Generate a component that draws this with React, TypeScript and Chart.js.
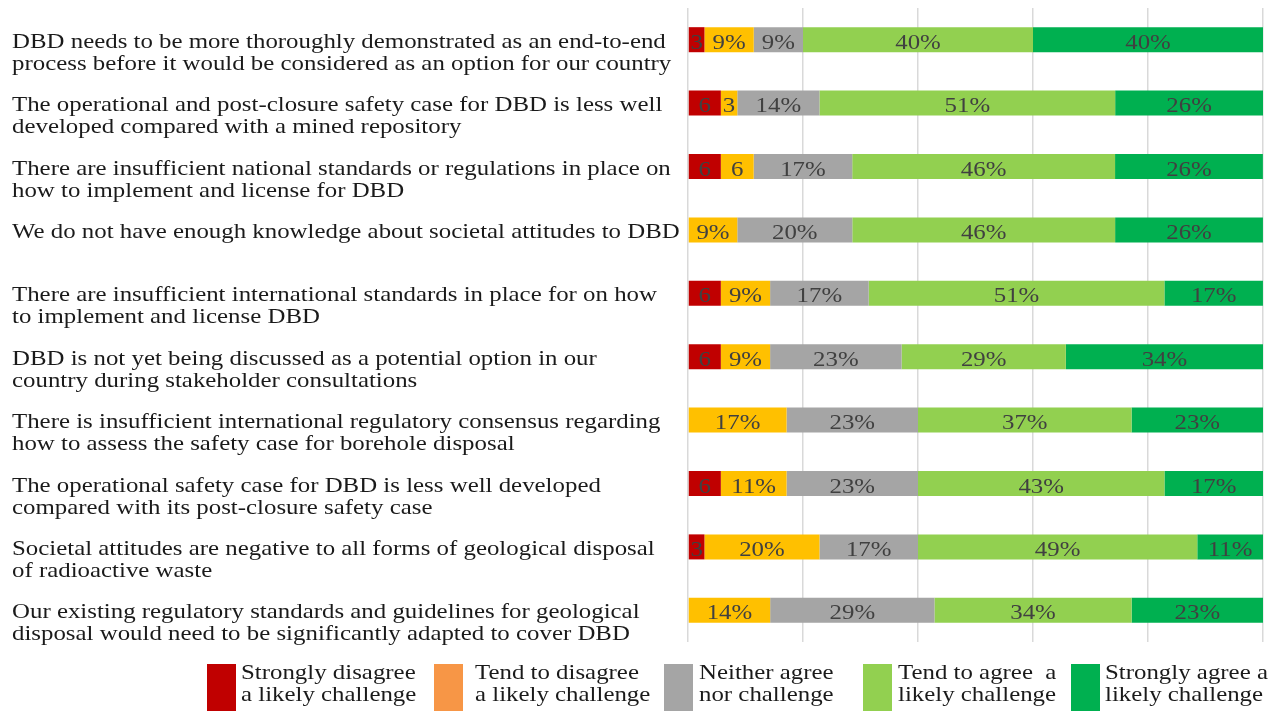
import React, { useEffect, useRef } from "react";
import { Chart, registerables } from "chart.js";

Chart.register(...registerables);

const categories: string[][] = [
  ["DBD needs to be more thoroughly demonstrated as an end-to-end", "process before it would be considered as an option for our country"],
  ["The operational and post-closure safety case for DBD is less well", "developed compared with a mined repository"],
  ["There are insufficient national standards or regulations in place on", "how to implement and license for DBD"],
  ["We do not have enough knowledge about societal attitudes to DBD"],
  ["There are insufficient international standards in place for on how", "to implement and license DBD"],
  ["DBD is not yet being discussed as a potential option in our", "country during stakeholder consultations"],
  ["There is insufficient international regulatory consensus regarding", "how to assess the safety case for borehole disposal"],
  ["The operational safety case for DBD is less well developed", "compared with its post-closure safety case"],
  ["Societal attitudes are negative to all forms of geological disposal", "of radioactive waste"],
  ["Our existing regulatory standards and guidelines for geological", "disposal would need to be significantly adapted to cover DBD"],
];

const seriesNames: string[][] = [
  ["Strongly disagree", "a likely challenge"],
  ["Tend to disagree", "a likely challenge"],
  ["Neither agree", "nor challenge"],
  ["Tend to agree  a", "likely challenge"],
  ["Strongly agree a", "likely challenge"],
];

const stronglyDisagree = [2.86, 5.71, 5.71, 0, 5.71, 5.71, 0, 5.71, 2.86, 0];
const tendDisagree = [8.57, 2.86, 5.71, 8.57, 8.57, 8.57, 17.14, 11.43, 20.0, 14.29];
const neither = [8.57, 14.29, 17.14, 20.0, 17.14, 22.86, 22.86, 22.86, 17.14, 28.57];
const tendAgree = [40.0, 51.43, 45.71, 45.71, 51.43, 28.57, 37.14, 42.86, 48.57, 34.29];
const stronglyAgree = [40.0, 25.71, 25.71, 25.71, 17.14, 34.29, 22.86, 17.14, 11.43, 22.86];

const xTickStep = 20;

const barColors = ["#C00000", "#FFC000", "#A5A5A5", "#92D050", "#00B050"];
const legendColors = ["#C00000", "#F79646", "#A5A5A5", "#92D050", "#00B050"];
const legendBoxX = [207, 434, 664, 863, 1071];
const legendTextX = [241, 475, 699, 898, 1105];

const FONT = '"Liberation Serif", "Times New Roman", serif';
const STRETCH = 1.13;

function stretchedText(ctx: CanvasRenderingContext2D, txt: string, x: number, y: number) {
  ctx.save();
  ctx.translate(x, y);
  ctx.scale(STRETCH, 1);
  ctx.fillText(txt, 0, 0);
  ctx.restore();
}

export default function App() {
  const ref = useRef<HTMLCanvasElement>(null);

  useEffect(() => {
    if (!ref.current) return;
    const values = [stronglyDisagree, tendDisagree, neither, tendAgree, stronglyAgree];

    const drawPlugin = {
      id: "customText",
      afterDatasetsDraw(chart: any) {
        const ctx = chart.ctx;
        ctx.save();
        ctx.font = `22px ${FONT}`;
        ctx.fillStyle = "#404040";
        ctx.textAlign = "center";
        ctx.textBaseline = "alphabetic";
        chart.data.datasets.forEach((ds: any, di: number) => {
          const meta = chart.getDatasetMeta(di);
          meta.data.forEach((bar: any, i: number) => {
            const v = ds.data[i] as number;
            if (!v) return;
            const p = bar.getProps(["x", "y", "base"], true);
            const cx = (p.x + p.base) / 2;
            const r = Math.round(v);
            const txt = v < 7 ? String(r) : `${r}%`;
            stretchedText(ctx, txt, cx, p.y + 9);
          });
        });
        ctx.restore();
      },
      afterDraw(chart: any) {
        const ctx = chart.ctx;
        const yScale = chart.scales.y;
        ctx.save();
        ctx.font = `22px ${FONT}`;
        ctx.fillStyle = "#1A1A1A";
        ctx.textAlign = "left";
        ctx.textBaseline = "alphabetic";
        categories.forEach((lines, i) => {
          const y = yScale.getPixelForValue(i);
          lines.forEach((ln, li) => {
            stretchedText(ctx, ln, 12, y + 8 + li * 22);
          });
        });
        chart.data.datasets.forEach((ds: any, di: number) => {
          ctx.fillStyle = legendColors[di];
          ctx.fillRect(legendBoxX[di], 664, 29, 50);
          ctx.fillStyle = "#1A1A1A";
          seriesNames[di].forEach((ln, li) => {
            stretchedText(ctx, ln, legendTextX[di], 679 + li * 22);
          });
        });
        ctx.restore();
      },
    };

    const chart = new Chart(ref.current, {
      type: "bar",
      data: {
        labels: categories.map((c) => c.join(" ")),
        datasets: seriesNames.map((n, i) => ({
          label: n.join(" "),
          data: values[i],
          backgroundColor: barColors[i],
          borderWidth: 0,
          barPercentage: 0.395,
          categoryPercentage: 1,
        })),
      },
      options: {
        indexAxis: "y",
        animation: false,
        responsive: true,
        maintainAspectRatio: false,
        layout: { padding: { left: 0, right: 15, top: 8, bottom: 69 } },
        plugins: {
          legend: { display: false },
          tooltip: { enabled: false },
        },
        scales: {
          x: {
            type: "linear",
            stacked: true,
            min: 0,
            max: 100,
            ticks: { display: false, stepSize: xTickStep },
            grid: { color: "#D9D9D9", drawTicks: false, lineWidth: 1.5 },
            border: { display: false },
            afterFit: (s: any) => {
              s.height = 0;
            },
          },
          y: {
            type: "category",
            stacked: true,
            ticks: { display: false },
            grid: { display: false, drawTicks: false },
            border: { display: false },
            afterFit: (s: any) => {
              s.width = 688;
            },
          },
        },
      } as any,
      plugins: [drawPlugin],
    });

    return () => chart.destroy();
  }, []);

  return (
    <div style={{ position: "fixed", left: 0, top: 0, width: 1278, height: 711, background: "#fff" }}>
      <canvas ref={ref} />
    </div>
  );
}
